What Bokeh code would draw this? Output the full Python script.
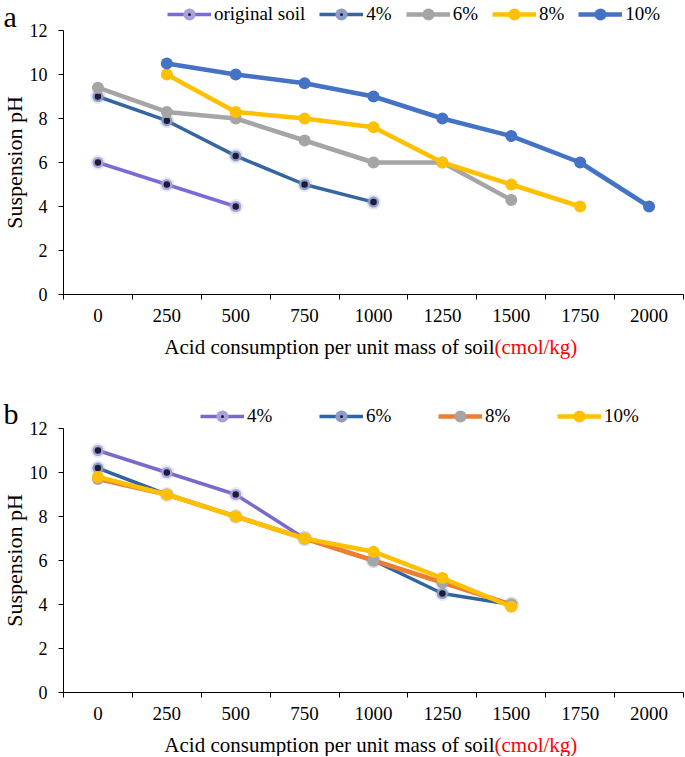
import math
from bokeh.plotting import figure
from bokeh.models import Range1d, FixedTicker, Label, Legend, LegendItem
from bokeh.layouts import column
from bokeh.embed import file_html
from bokeh.resources import INLINE

# ---------------- data ----------------
x_labels = [0, 250, 500, 750, 1000, 1250, 1500, 1750, 2000]

# panel a
a_original_x = [0, 250, 500]
a_original_y = [6, 5, 4]
a_4_x = [0, 250, 500, 750, 1000]
a_4_y = [9, 7.9, 6.3, 5, 4.2]
a_6_x = [0, 250, 500, 750, 1000, 1250, 1500]
a_6_y = [9.4, 8.3, 8, 7, 6, 6, 4.3]
a_8_x = [250, 500, 750, 1000, 1250, 1500, 1750]
a_8_y = [10, 8.3, 8, 7.6, 6, 5, 4]
a_10_x = [250, 500, 750, 1000, 1250, 1500, 1750, 2000]
a_10_y = [10.5, 10, 9.6, 9, 8, 7.2, 6, 4]
a_names = ["original soil", "4%", "6%", "8%", "10%"]

# panel b
b_x = [0, 250, 500, 750, 1000, 1250, 1500]
b_4_y = [11, 10, 9, 7, 6, 5, 4]
b_6_y = [10.2, 9, 8, 7, 6, 4.5, 4]
b_8_y = [9.7, 9, 8, 7, 6, 5, 4]
b_10_y = [9.8, 9, 8, 7, 6.4, 5.2, 3.9]
b_names = ["4%", "6%", "8%", "10%"]

y_ticks = [0, 2, 4, 6, 8, 10, 12]
x_title_black = "Acid consumption per unit mass of soil"
x_title_red = "(cmol/kg)"
y_title = "Suspension pH"

FONT = "Liberation Serif"
W = 685
AX_L, AX_R = 63, 683      # pixel x of axis start / end
FH = 264                  # pixel height of 0..12


def add_label(p, H, x, y, text, **kw):
    p.add_layout(Label(x=x, y=H - y, x_units="screen", y_units="screen",
                       text=text, text_font=FONT, text_baseline="middle", **kw))


def make_fig(H, top):
    """top = pixel y (from canvas top) of the value 12."""
    step = x_labels[1] - x_labels[0]
    x0 = x_labels[0] - step / 2
    x1 = x_labels[-1] + step / 2
    kx = (x1 - x0) / (AX_R - AX_L)
    y0, y1 = min(y_ticks), max(y_ticks)
    ky = (y1 - y0) / FH
    bottom = top + FH
    p = figure(width=W, height=H, output_backend="svg",
               toolbar_location=None, title=None,
               x_range=Range1d(x0 - AX_L * kx, x1 + (W - AX_R) * kx),
               y_range=Range1d(y0 - (H - bottom) * ky, y1 + top * ky))
    p.min_border = 0
    p.outline_line_color = None
    p.xgrid.visible = False
    p.ygrid.visible = False
    p.xaxis.fixed_location = y0
    p.yaxis.fixed_location = x0
    p.xaxis.bounds = (x0, x1)
    p.yaxis.bounds = (y0, y1)
    bounds = [x - step / 2 for x in x_labels] + [x1]
    p.xaxis.ticker = FixedTicker(ticks=x_labels, minor_ticks=bounds)
    p.xaxis.major_tick_out = 0
    p.xaxis.major_tick_in = 0
    p.xaxis.minor_tick_out = 5
    p.xaxis.minor_tick_in = 0
    p.xaxis.major_label_standoff = 9
    p.xaxis.major_label_text_font = FONT
    p.xaxis.major_label_text_font_size = "19px"
    p.xaxis.major_label_text_color = "black"
    p.yaxis.ticker = FixedTicker(ticks=y_ticks, minor_ticks=[])
    p.yaxis.major_tick_out = 5
    p.yaxis.major_tick_in = 0
    p.yaxis.major_label_standoff = 11
    p.yaxis.major_label_text_font = FONT
    p.yaxis.major_label_text_font_size = "18px"
    p.yaxis.major_label_text_color = "black"
    for ax in (p.xaxis, p.yaxis):
        ax.axis_line_color = "black"
        ax.major_tick_line_color = "black"
        ax.minor_tick_line_color = "black"

    # titles
    add_label(p, H, 14, top + FH / 2, y_title, angle=math.pi / 2, text_align="center",
              text_font_size="22px", text_color="black")
    junction = 494
    add_label(p, H, junction, bottom + 52, x_title_black, text_align="right",
              text_font_size="21px", text_color="black")
    add_label(p, H, junction, bottom + 52, x_title_red, text_align="left",
              text_font_size="21px", text_color="#FF0000")
    return p


def series(p, xs, ys, color, style, mcolor=None):
    rs = []
    if style == "dot":
        rs.append(p.line(xs, ys, line_color=color, line_width=3.5))
        rs.append(p.scatter(xs, ys, size=15, fill_color=mcolor, fill_alpha=0.25, line_color=None))
        rs.append(p.scatter(xs, ys, size=11, fill_color=mcolor, line_color=None))
        rs.append(p.scatter(xs, ys, marker="dot", size=26, line_color="#1C1C3A",
                            fill_color="#1C1C3A"))
    else:
        rs.append(p.line(xs, ys, line_color=color, line_width=4.5))
        rs.append(p.scatter(xs, ys, size=12, fill_color=mcolor or color, line_color=None))
    return rs


def add_legend(p, H, items, x, yc, label_width):
    lg = Legend(items=[LegendItem(label=n, renderers=r) for n, r in items],
                orientation="horizontal", location=(x, H - yc - 15))
    lg.glyph_width = 44
    lg.glyph_height = 30
    lg.label_height = 20
    lg.label_width = label_width
    lg.label_standoff = 3
    lg.spacing = 14
    lg.padding = 0
    lg.margin = 0
    lg.border_line_alpha = 0
    lg.background_fill_alpha = 0
    lg.label_text_font = FONT
    lg.label_text_font_size = "19px"
    lg.label_text_color = "black"
    p.add_layout(lg)


# ---------------- panel a ----------------
HA = 384
pa = make_fig(HA, 30)
ra = [
    series(pa, a_original_x, a_original_y, "#7E6AD6", "dot", "#A7A2D8"),
    series(pa, a_4_x, a_4_y, "#3566A0", "dot", "#8C9CC4"),
    series(pa, a_6_x, a_6_y, "#A5A5A5", "solid"),
    series(pa, a_8_x, a_8_y, "#FFC000", "solid"),
    series(pa, a_10_x, a_10_y, "#4472C4", "solid"),
]
add_legend(pa, HA, list(zip(a_names, ra)), 167, 14, 20)
add_label(pa, HA, 3, 16, "a", text_align="left", text_font_size="30px", text_color="black")

# ---------------- panel b ----------------
HB = 372
pb = make_fig(HB, 44)
rb = [
    series(pb, b_x, b_4_y, "#7B68C8", "dot", "#A7A2D8"),
    series(pb, b_x, b_6_y, "#2F64A0", "dot", "#8C9CC4"),
    series(pb, b_x, b_8_y, "#ED7D31", "solid", "#A5A5A5"),
    series(pb, b_x, b_10_y, "#FFC000", "solid"),
]
add_legend(pb, HB, list(zip(b_names, rb)), 200, 32, 58)
add_label(pb, HB, 3, 29, "b", text_align="left", text_font_size="30px", text_color="black")

layout = column(pa, pb, spacing=0)
open("out.html", "w").write(file_html(layout, INLINE))
